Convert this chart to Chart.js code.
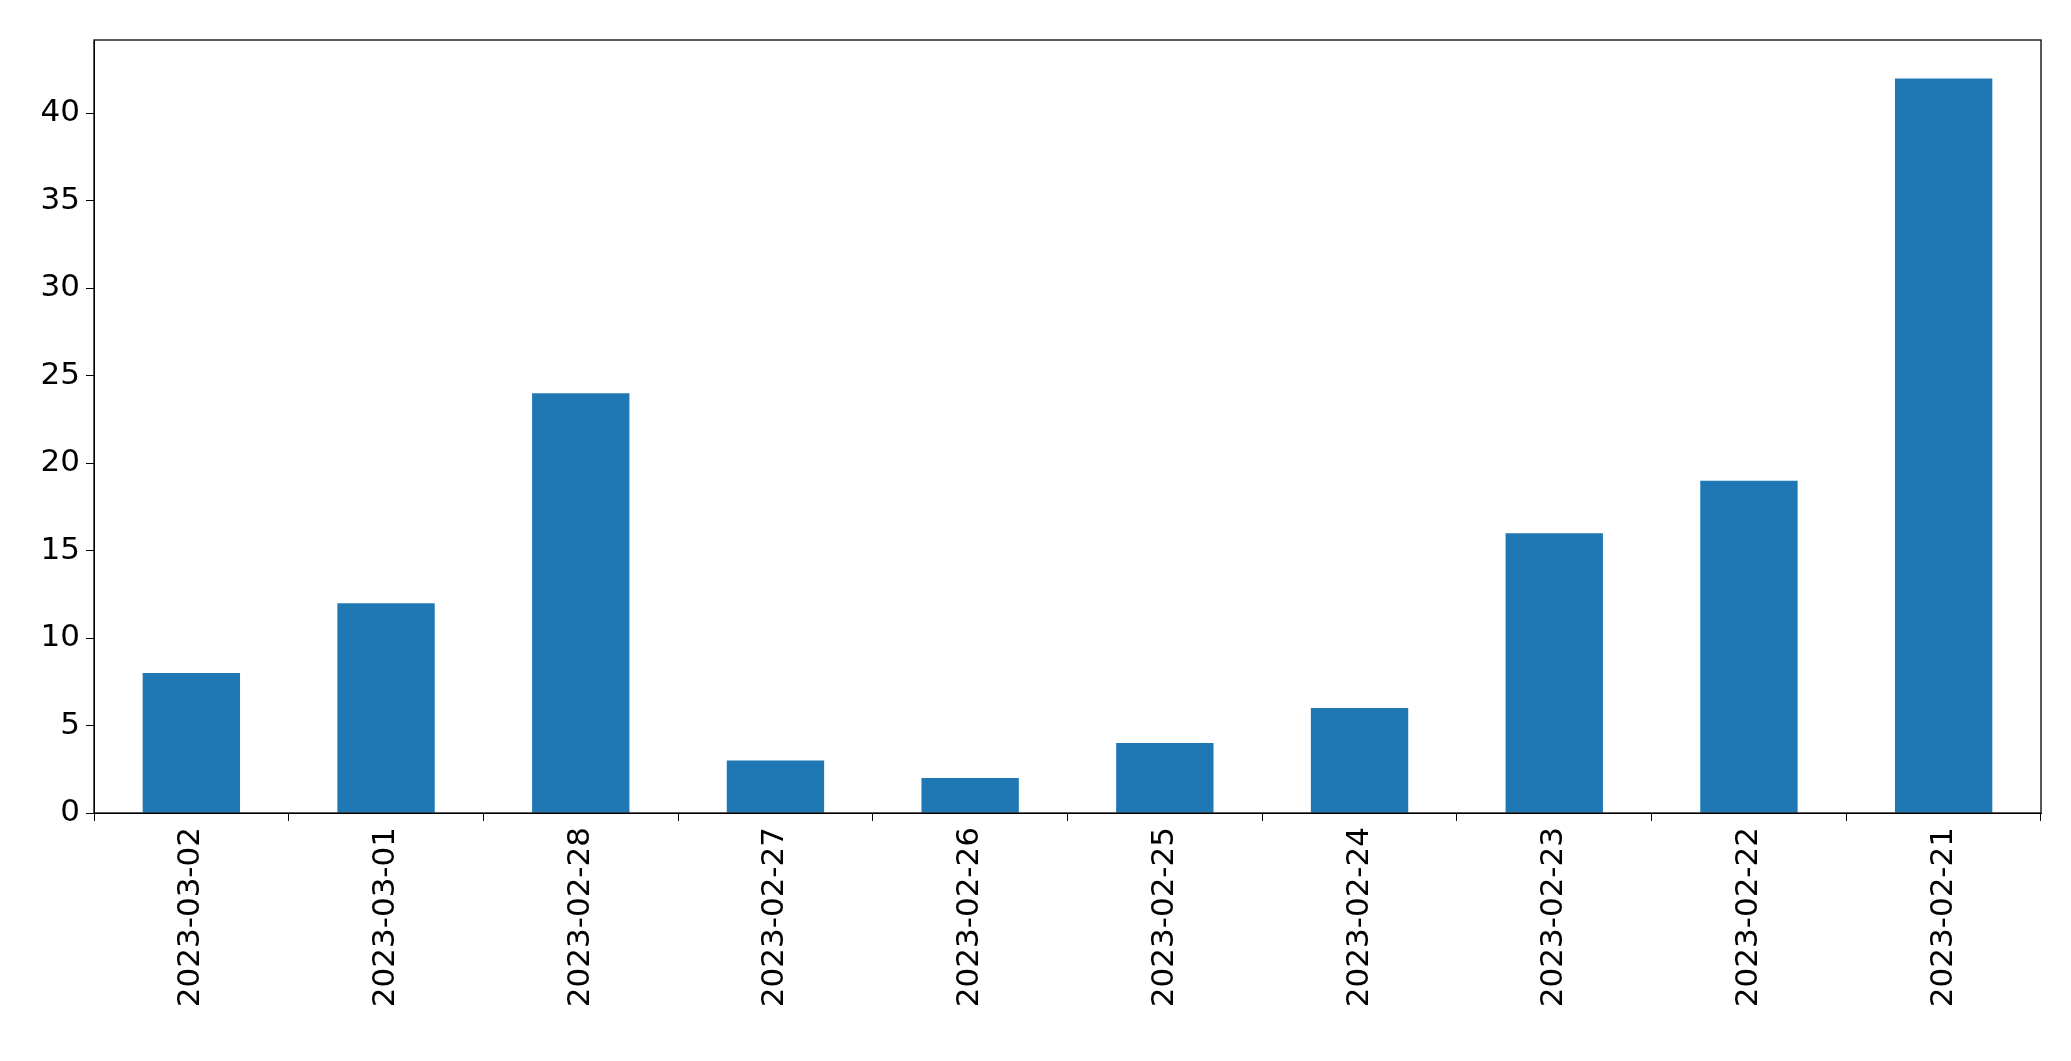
<!DOCTYPE html>
<html><head><meta charset="utf-8">
<script src="https://cdn.jsdelivr.net/npm/chart.js@4"></script>
<style>html,body{margin:0;padding:0;background:#fff}#w{width:2071px;height:1061px}</style>
</head><body><div id="w"><canvas id="c"></canvas></div>
<script>
const categories = ["2023-03-02","2023-03-01","2023-02-28","2023-02-27","2023-02-26","2023-02-25","2023-02-24","2023-02-23","2023-02-22","2023-02-21"];
const values = [8,12,24,3,2,4,6,16,19,42];
const yTicks = [0,5,10,15,20,25,30,35,40];
const font = {family:"DejaVu Sans", size:31};
const box = {id:'box', afterDraw(ch){const a=ch.chartArea,x=ch.ctx;x.save();x.strokeStyle='#000';x.lineWidth=1.3;x.strokeRect(a.left,a.top,a.right-a.left,a.bottom-a.top);x.restore();}};
new Chart(document.getElementById('c'),{
 type:'bar',
 data:{labels:categories,datasets:[{data:values,backgroundColor:'#1f77b4',barPercentage:0.5,categoryPercentage:1}]},
 options:{responsive:true,maintainAspectRatio:false,animation:false,
  layout:{padding:{top:40,right:30,left:0,bottom:0}},
  plugins:{legend:{display:false},tooltip:{enabled:false}},
  scales:{
   x:{grid:{display:true,drawOnChartArea:false,tickLength:8,tickColor:'#000'},border:{color:'#000'},
      ticks:{color:'#000',font,minRotation:90,maxRotation:90,padding:6},
      afterFit(s){s.height=248;}},
   y:{min:0,max:44.2,grid:{display:true,drawOnChartArea:false,tickLength:8,tickColor:'#000'},border:{color:'#000'},
      afterBuildTicks(s){s.ticks=yTicks.map(v=>({value:v}));},
      ticks:{color:'#000',font,padding:6},
      afterFit(s){s.width=94;}}
  }},
 plugins:[box]
});
</script></body></html>
